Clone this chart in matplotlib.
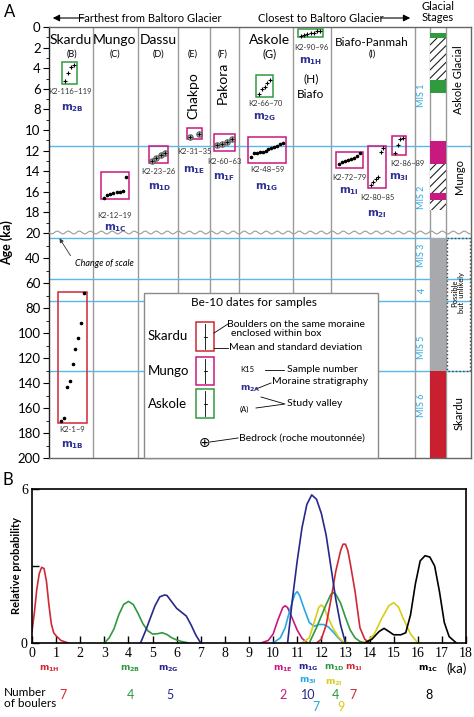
import numpy as np
import matplotlib.pyplot as plt
from matplotlib.patches import Rectangle
from matplotlib.lines import Line2D

plt.rcParams['font.family'] = ['Lato', 'DejaVu Sans']
plt.rcParams['hatch.linewidth'] = 0.8

W, H = 474, 717

# ---------------- panel A data ----------------
age_ticks = [0, 2, 4, 6, 8, 10, 12, 14, 16, 18, 20, 40, 60, 80, 100, 120, 140, 160, 180, 200]
mis_ages = [11.6, 24, 57, 74, 130]

col_edges = [93, 138, 178, 210, 239, 293, 331, 415, 430, 446]

# Be-10 boulder ages (ka) per moraine
ages_m2B = [5.2, 4.5, 3.9, 3.7]
ages_m1B = [170, 168, 143, 138, 125, 113, 104, 92, 68]
ages_m1C = [16.6, 16.3, 16.2, 16.1, 16.0, 16.0, 15.9, 14.6]
ages_m1D = [13.0, 12.7, 12.4, 12.2]
ages_m1E = [10.7, 10.4]
ages_m1F = [11.5, 11.4, 11.2, 10.9]
ages_m2G = [6.5, 6.0, 5.8, 5.4, 5.1]
ages_m1G = [12.6, 12.26, 12.2, 12.16, 12.1, 12.0, 11.87, 11.77, 11.68, 11.55, 11.36, 11.29]
ages_m1H = [0.85, 0.75, 0.7, 0.6, 0.55, 0.4, 0.35]
ages_m1I = [13.3, 13.1, 13.0, 12.9, 12.8, 12.7, 12.5, 12.2]
ages_m2I = [15.3, 15.0, 14.8, 14.6, 12.1, 11.7]
ages_m3I = [12.2, 11.5, 10.9, 10.8]

# glacial stage spans (ka)
green_spans = [(0.6, 1.1), (5.1, 6.4)]
hatch_spans = [(1.1, 5.1), (13.3, 16.1), (16.8, 17.8)]
mungo_spans = [(11.1, 13.3), (16.1, 16.8)]
gray_span = (24, 130)
skardu_span = (130, 200)

# ---------------- panel B data ----------------
x_m1H = [0, 0.1, 0.2, 0.3, 0.4, 0.5, 0.6, 0.7, 0.8, 0.9, 1.0, 1.2, 1.5]
y_m1H = [0.45, 1.2, 2.1, 2.7, 2.95, 2.9, 2.4, 1.5, 0.75, 0.4, 0.28, 0.1, 0.0]
x_m2B = [3.0, 3.2, 3.4, 3.6, 3.8, 4.0, 4.2, 4.4, 4.6, 4.8, 5.0, 5.2, 5.4, 5.6, 5.8, 6.0, 6.2, 6.5]
y_m2B = [0, 0.2, 0.55, 1.1, 1.5, 1.62, 1.5, 1.15, 0.75, 0.48, 0.35, 0.36, 0.40, 0.33, 0.2, 0.12, 0.06, 0]
x_m2G = [4.5, 4.7, 4.9, 5.1, 5.3, 5.5, 5.6, 5.8, 6.0, 6.2, 6.4, 6.6, 6.8, 7.0]
y_m2G = [0, 0.45, 0.95, 1.45, 1.8, 1.87, 1.85, 1.6, 1.35, 1.2, 1.05, 0.7, 0.3, 0]
x_m1E = [9.5, 9.8, 10.0, 10.2, 10.4, 10.5, 10.6, 10.8, 11.0, 11.2, 11.4]
y_m1E = [0, 0.1, 0.35, 0.9, 1.38, 1.45, 1.38, 0.95, 0.5, 0.18, 0.02]
x_m3I = [10.0, 10.3, 10.5, 10.7, 10.9, 11.0, 11.1, 11.3, 11.5, 11.7, 11.9, 12.1, 12.3, 12.5, 12.7, 12.9]
y_m3I = [0, 0.2, 0.6, 1.3, 1.9, 2.0, 1.85, 1.3, 0.8, 0.65, 0.72, 0.72, 0.62, 0.42, 0.2, 0.02]
x_m1G = [10.6, 10.8, 11.0, 11.2, 11.4, 11.6, 11.8, 12.0, 12.2, 12.4, 12.6, 12.8, 13.0]
y_m1G = [0, 1.7, 3.2, 4.5, 5.4, 5.77, 5.6, 5.05, 4.2, 2.95, 1.7, 0.7, 0]
x_m2I = [11.2, 11.5, 11.7, 11.9, 12.0, 12.1, 12.3, 12.5, 12.7, 12.9, 13.2, 13.6, 13.9,
         14.2, 14.5, 14.8, 15.0, 15.2, 15.4, 15.7, 16.0]
y_m2I = [0, 0.2, 0.8, 1.4, 1.48, 1.4, 0.95, 0.55, 0.25, 0.05, 0, 0, 0.05,
         0.35, 0.95, 1.45, 1.57, 1.4, 0.95, 0.35, 0]
x_m1D = [11.5, 11.8, 12.0, 12.2, 12.4, 12.5, 12.6, 12.8, 13.0, 13.2, 13.4, 13.6, 13.8]
y_m1D = [0, 0.6, 1.05, 1.5, 1.9, 1.96, 1.9, 1.55, 1.0, 0.5, 0.2, 0.06, 0]
x_m1I = [11.8, 12.0, 12.2, 12.4, 12.6, 12.8, 12.9, 13.0, 13.1, 13.2, 13.4, 13.6, 13.8, 14.0]
y_m1I = [0, 0.15, 0.7, 1.7, 2.8, 3.6, 3.85, 3.85, 3.6, 3.1, 2.0, 0.6, 0.15, 0]
x_m1C = [13.8, 14.1, 14.4, 14.6, 14.8, 15.0, 15.3, 15.5, 15.7, 15.9, 16.1, 16.3, 16.5, 16.7, 16.9, 17.1, 17.3, 17.6]
y_m1C = [0, 0.15, 0.45, 0.57, 0.45, 0.32, 0.32, 0.4, 1.1, 2.3, 3.2, 3.4, 3.35, 3.0, 2.0, 0.8, 0.25, 0]

RED = '#d02836'
GREEN = '#2f9a3e'
NAVY = '#26288c'
MAG = '#c8197f'
CYAN = '#27a9e1'
YEL = '#d9cc1c'
SKY = '#5bb8e6'
MBLUE = '#2e3192'

fig = plt.figure(figsize=(W / 100, H / 100), dpi=100)


def txt(x, y, s, **kw):
    kw.setdefault('ha', 'center')
    kw.setdefault('va', 'center')
    fig.text(x / W, 1 - y / H, s, **kw)


def pline(xs, ys, **kw):
    fig.add_artist(Line2D([x / W for x in xs], [1 - y / H for y in ys], **kw))


def prect(x0, y0, x1, y1, **kw):
    fig.add_artist(Rectangle((x0 / W, 1 - y1 / H), (x1 - x0) / W, (y1 - y0) / H,
                             transform=fig.transFigure, **kw))


def mlab(sub):
    return r'$\mathbf{m_{%s}}$' % sub


# ================= panel A =================
ax = fig.add_axes([49 / W, 1 - 458 / H, (471 - 49) / W, (458 - 27) / H])
k = 1.25 / 10.3


def fwd(y):
    y = np.asarray(y, float)
    return np.where(y <= 20, y, 20 + (y - 20) * k)


def inv(z):
    z = np.asarray(z, float)
    return np.where(z <= 20, z, 20 + (z - 20) / k)


ax.set_yscale('function', functions=(fwd, inv))
ax.set_xlim(49, 471)
ax.set_ylim(200, 0)
ax.set_xticks([])
ax.set_yticks(age_ticks)
ax.set_yticklabels([str(t) for t in age_ticks], fontsize=9.5)
ax.set_yticks(list(range(1, 20, 2)) + list(range(30, 200, 20)), minor=True)
ax.tick_params(axis='y', length=4, width=0.8, pad=2)
ax.tick_params(axis='y', which='minor', length=2, width=0.6)
for s in ax.spines.values():
    s.set_color('#666666')
    s.set_linewidth(1)
ax.spines['left'].set_color('#222222')
ax.set_ylabel('Age (ka)', fontsize=9, fontweight='bold', labelpad=3)

for xe in col_edges:
    ax.axvline(xe, color='#9a9a9a', lw=1, zorder=1)
for a in mis_ages:
    ax.axhline(a, color=SKY, lw=1, zorder=1.5)

# stage bars
for a0, a1 in green_spans:
    ax.fill_between([430, 446], a0, a1, color=GREEN, lw=0, zorder=2)
for a0, a1 in mungo_spans:
    ax.fill_between([430, 446], a0, a1, color=MAG, lw=0, zorder=2)
for a0, a1 in hatch_spans:
    ax.fill_between([430, 446], a0, a1, facecolor='white', edgecolor='#222222',
                    hatch='////', lw=0, zorder=2)
ax.fill_between([430, 446], gray_span[0], gray_span[1], color='#a7a9ac', lw=0, zorder=2)
ax.fill_between([430, 446], skardu_span[0], skardu_span[1], color='#c8202e', lw=0, zorder=2)
ax.add_patch(Rectangle((447, gray_span[0]), 23, gray_span[1] - gray_span[0],
                       fill=False, ls=':', lw=1, ec='#444444', zorder=3))

# change of scale wave
wx = np.linspace(49, 471, 900)
pline(wx, 232.5 + 1.4 * np.sin(2 * np.pi * (wx - 49) / 11), color='#9a9a9a', lw=0.8)

# sample boxes: ages, box x range, box age range, colour, marker style
boxes = [
    (ages_m2B, 62, 77, 3.4, 5.5, GREEN, 'plus'),
    (ages_m1B, 58, 87, 67, 172, RED, 'dot'),
    (ages_m1C, 101, 129, 14.1, 16.7, MAG, 'dot'),
    (ages_m1D, 149, 168, 11.6, 13.2, MAG, 'bed'),
    (ages_m1E, 187, 202, 9.8, 10.9, MAG, 'bed'),
    (ages_m1F, 214, 235, 10.4, 12.0, MAG, 'bed'),
    (ages_m2G, 256, 273, 4.7, 6.8, GREEN, 'plus'),
    (ages_m1G, 248, 286, 10.7, 13.2, MAG, 'dot'),
    (ages_m1H, 298, 323, 0.2, 1.0, GREEN, 'plus'),
    (ages_m1I, 336, 363, 12.1, 13.7, MAG, 'dot'),
    (ages_m2I, 368, 386, 11.6, 15.6, MAG, 'plus'),
    (ages_m3I, 392, 406, 10.6, 12.4, MAG, 'plus'),
]
for ages, x0, x1, a0, a1, c, style in boxes:
    ax.add_patch(Rectangle((x0, a0), x1 - x0, a1 - a0, fill=False, ec=c, lw=1.1, zorder=4))
    xs = np.linspace(x0 + 3, x1 - 3, len(ages))
    if style == 'bed':
        ax.plot(xs, ages, 'o', ms=4, mfc='#9a9a9a', mec='#555555', mew=0.6, zorder=5)
        ax.plot(xs, ages, '+', ms=3, color='k', mew=0.6, zorder=6)
    elif style == 'plus':
        ax.plot(xs, ages, '+', ms=3, color='k', mew=0.8, zorder=5)
    else:
        ax.plot(xs, ages, 'o', ms=1.6, color='k', zorder=5)

# box labels (pixel layout)
klabels = [('K2-116~119', 70, 92), ('K2-1~9', 72, 430), ('K2-12~19', 115, 215),
           ('K2-23~26', 158, 171), ('K2-31~35', 194, 151), ('K2-60~63', 224, 162),
           ('K2-66~70', 265, 103), ('K2-48~59', 267, 170), ('K2-90~96', 311, 48),
           ('K2-72~79', 349, 177), ('K2-80~85', 377, 198), ('K2-86~89', 407, 163)]
for s, x, y in klabels:
    txt(x, y, s, fontsize=5.5, color='#333333')
mlabels = [('2B', 72, 108), ('1B', 72, 445), ('1C', 115, 228), ('1D', 160, 187),
           ('1E', 194, 170), ('1F', 224, 177), ('2G', 265, 117), ('1G', 267, 187),
           ('1H', 311, 61), ('1I', 349, 191), ('2I', 377, 214), ('3I', 399, 177)]
for s, x, y in mlabels:
    txt(x, y, mlab(s), fontsize=7.5, color=MBLUE)

# column headings
for s, x in [('Skardu', 71), ('Mungo', 115), ('Dassu', 158), ('Askole', 270)]:
    txt(x, 40, s, fontsize=10)
txt(372, 42, 'Biafo-Panmah', fontsize=8.5)
for s, x in [('(B)', 72), ('(C)', 115), ('(D)', 158), ('(E)', 193), ('(F)', 223),
             ('(G)', 270), ('(I)', 372)]:
    txt(x, 54, s, fontsize=6.5 if s != '(G)' else 8)
txt(193, 96, 'Chakpo', fontsize=10, rotation=90)
txt(223, 83, 'Pakora', fontsize=10, rotation=90)
txt(311, 79, '(H)', fontsize=8.5)
txt(311, 94, 'Biafo', fontsize=8.5)

# header arrows
hfont = ['Liberation Sans Narrow', 'Lato', 'DejaVu Sans']
txt(150, 18, 'Farthest from Baltoro Glacier', fontsize=8, family=hfont)
fig.add_artist(plt.Annotation('', xy=(50 / W, 1 - 18 / H), xytext=(87 / W, 1 - 18 / H),
                              xycoords='figure fraction',
                              arrowprops=dict(arrowstyle='-|>', color='k', lw=0.8)))
txt(321, 18, 'Closest to Baltoro Glacier', fontsize=8, family=hfont)
fig.add_artist(plt.Annotation('', xy=(413 / W, 1 - 18 / H), xytext=(378 / W, 1 - 18 / H),
                              xycoords='figure fraction',
                              arrowprops=dict(arrowstyle='-|>', color='k', lw=0.8)))
txt(438, 12, 'Glacial\nStages', fontsize=8, family=hfont, linespacing=1.0)
txt(10, 12, 'A', fontsize=12)

# MIS labels and stage names
for s, y in [('MIS 1', 95), ('MIS 2', 197), ('MIS 3', 255), ('4', 290), ('MIS 5', 347),
             ('MIS 6', 405)]:
    txt(422, y, s, fontsize=6.5, color='#2aa7de', rotation=90)
txt(459, 80, 'Askole Glacial', fontsize=8, rotation=90)
txt(459, 177, 'Mungo', fontsize=8, rotation=90)
txt(458, 293, 'Possible\nbut  unlikely', fontsize=5.5, rotation=90, linespacing=0.9)
txt(459, 413, 'Skardu', fontsize=8, rotation=90)

# change of scale note
txt(104, 263, 'Change of scale', fontsize=6.5, style='italic')
fig.add_artist(plt.Annotation('', xy=(58 / W, 1 - 236 / H), xytext=(72 / W, 1 - 258 / H),
                              xycoords='figure fraction',
                              arrowprops=dict(arrowstyle='-|>', color='#333333', lw=0.6,
                                              mutation_scale=6)))

# legend box
prect(144, 293, 378, 458, fc='white', ec='#8a8a8a', lw=1, zorder=10)
lz = dict(zorder=11)
txt(254, 303, 'Be-10 dates for samples', fontsize=8.5, **lz)
for s, y0, y1, c in [('Skardu', 322, 351, RED), ('Mungo', 357, 385, MAG),
                     ('Askole', 389, 418, GREEN)]:
    txt(168, (y0 + y1) / 2, s, fontsize=9.5, **lz)
    prect(196, y0, 214, y1, fill=False, ec=c, lw=1.1, zorder=11)
    pline([205, 205], [y0 + 2, y1 - 2], color='k', lw=0.6, zorder=11)
    pline([203.5, 206.5], [(y0 + y1) / 2] * 2, color='k', lw=0.6, zorder=11)
pline([214, 228], [333, 324], color='k', lw=0.6, zorder=11)
pline([214, 228], [348, 348], color='k', lw=0.6, zorder=11)
txt(227, 324, 'Boulders on the same moraine', fontsize=7.5, ha='left', **lz)
txt(231, 334, 'enclosed within box', fontsize=7.5, ha='left', **lz)
txt(229, 348, 'Mean and standard deviation', fontsize=7.5, ha='left', **lz)
txt(240, 370, 'K15', fontsize=5.5, ha='left', **lz)
pline([265, 284], [370, 370], color='k', lw=0.6, zorder=11)
txt(287, 370, 'Sample number', fontsize=7.5, ha='left', **lz)
txt(272, 381, 'Moraine stratigraphy', fontsize=7.5, ha='left', **lz)
txt(240, 389, mlab('2A'), fontsize=6.5, color=MBLUE, ha='left', **lz)
pline([256, 271], [389, 383], color='k', lw=0.6, zorder=11)
txt(240, 409, '(A)', fontsize=5.5, ha='left', **lz)
pline([261, 285, 256], [397, 404, 408], color='k', lw=0.6, zorder=11)
txt(287, 404, 'Study valley', fontsize=7.5, ha='left', **lz)
txt(204, 443, r'$\oplus$', fontsize=10, **lz)
pline([210, 238], [442, 438], color='k', lw=0.6, zorder=11)
txt(239, 438, 'Bedrock (roche moutonnée)', fontsize=7.5, ha='left', **lz)

# ================= panel B =================
ax2 = fig.add_axes([32 / W, 1 - 643 / H, (466 - 32) / W, (643 - 489) / H])
curves = [(x_m1H, y_m1H, RED), (x_m2B, y_m2B, GREEN), (x_m2G, y_m2G, NAVY),
          (x_m1E, y_m1E, MAG), (x_m3I, y_m3I, CYAN), (x_m2I, y_m2I, YEL),
          (x_m1D, y_m1D, GREEN), (x_m1I, y_m1I, RED), (x_m1G, y_m1G, NAVY),
          (x_m1C, y_m1C, 'k')]
for xs, ys, c in curves:
    ax2.plot(xs, ys, color=c, lw=1.2, solid_joinstyle='round')
ax2.set_xlim(0, 18)
ax2.set_ylim(0, 6)
ax2.set_xticks(range(0, 19))
ax2.set_yticks([0, 3, 6])
ax2.set_yticklabels(['0', '', '6'])
sfont = ['Liberation Serif', 'DejaVu Serif']
for lab in ax2.get_xticklabels() + ax2.get_yticklabels():
    lab.set_family(sfont)
    lab.set_fontsize(10)
ax2.tick_params(direction='in', length=5, width=1, pad=3)
for s in ax2.spines.values():
    s.set_linewidth(1.2)
txt(17, 566, 'Relative probability', fontsize=8, fontweight='bold', rotation=90)
txt(8, 480, 'B', fontsize=12)

# bottom labels for panel B
for s, x, y, c in [('1H', 49, 669, RED), ('2B', 130, 669, GREEN), ('2G', 168, 669, NAVY),
                   ('1E', 283, 669, MAG), ('1G', 308, 668, NAVY), ('3I', 308, 681, CYAN),
                   ('1D', 334, 668, GREEN), ('1I', 354, 668, RED), ('2I', 334, 683, YEL),
                   ('1C', 428, 669, 'k')]:
    txt(x, y, mlab(s), fontsize=6.5, color=c)
txt(457, 669, '(ka)', fontsize=9.5)
txt(4, 698, 'Number\nof boulers', fontsize=8.5, ha='left', linespacing=1.1)
for s, x, y, c in [('7', 63, 695, RED), ('4', 130, 695, GREEN), ('5', 170, 695, NAVY),
                   ('2', 283, 695, MAG), ('10', 308, 695, NAVY), ('4', 335, 695, GREEN),
                   ('7', 353, 695, RED), ('8', 429, 695, 'k'), ('7', 316, 707, CYAN),
                   ('9', 341, 707, YEL)]:
    txt(x, y, s, fontsize=9, color=c)

fig.savefig('out.png', dpi=100)
